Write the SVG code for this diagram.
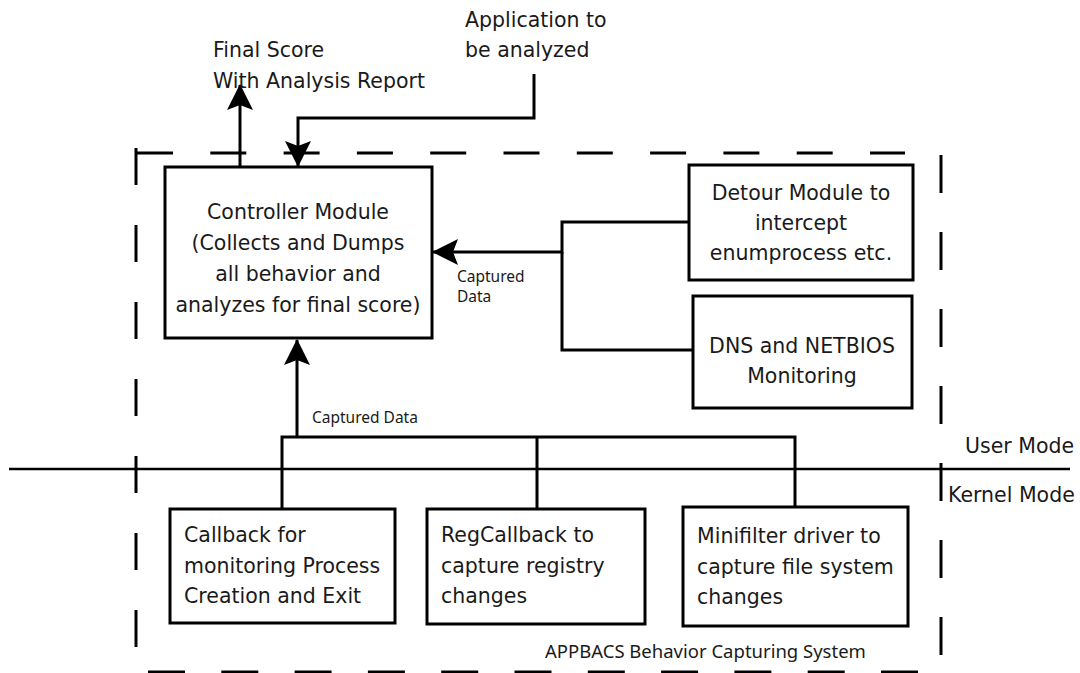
<svg xmlns="http://www.w3.org/2000/svg" width="1080" height="673" viewBox="0 0 1080 673">
<style>
.box{fill:#fff;stroke:#000;stroke-width:3}
.t{font-family:"DejaVu Sans",Verdana,sans-serif;font-size:20.5px;fill:#1a1a1a}
.tc{text-anchor:middle}
.s{font-family:"Noto Sans","Open Sans",sans-serif;font-size:15.5px;fill:#1a1a1a}
.ln{fill:none;stroke:#000;stroke-width:3}
.dash{fill:none;stroke:#000;stroke-width:3}
</style>
<defs>
<marker id="arr" viewBox="0 0 26 26" refX="25" refY="13" markerWidth="26" markerHeight="26" markerUnits="userSpaceOnUse" orient="auto">
<path d="M0,0 L26,13 L0,26 L5,13 Z" fill="#000"/>
</marker>
</defs>
<rect width="1080" height="673" fill="#fff"/>
<g id="boundary">
<line class="dash" x1="137" y1="153" x2="905" y2="153" stroke-dasharray="36 37.3"/>
<line class="dash" x1="136" y1="148" x2="136" y2="660" stroke-dasharray="37 40"/>
<line class="dash" x1="941" y1="155" x2="941" y2="665" stroke-dasharray="38 39"/>
<line class="dash" x1="148" y1="672" x2="920" y2="672" stroke-dasharray="37 36.3"/>
<text class="s" x="545" y="658" style="font-size:18.5px">APPBACS Behavior Capturing System</text>
</g>
<g id="mode-line">
<line x1="9" y1="469" x2="1070" y2="469" stroke="#000" stroke-width="2.5"/>
<text class="t" x="965" y="453">User Mode</text>
<text class="t" x="948" y="502">Kernel Mode</text>
</g>
<g id="connectors">
<line class="ln" x1="240" y1="167" x2="240" y2="85" marker-end="url(#arr)"/>
<polyline class="ln" points="534,74 534,118 298,118 298,166" marker-end="url(#arr)"/>
<polyline class="ln" points="689,222 562,222 562,252 433,252" marker-end="url(#arr)"/>
<polyline class="ln" points="562,252 562,350 693,350"/>
<line class="ln" x1="297" y1="437" x2="297" y2="340" marker-end="url(#arr)"/>
<polyline class="ln" points="282,509 282,437 795,437 795,507"/>
<line class="ln" x1="537" y1="437" x2="537" y2="509"/>
<text class="s" x="457" y="282">Captured</text>
<text class="s" x="457" y="302">Data</text>
<text class="s" x="312" y="423">Captured Data</text>
</g>
<g id="output-label">
<text class="t" x="213" y="57">Final Score</text>
<text class="t" x="213" y="88">With Analysis Report</text>
</g>
<g id="input-label">
<text class="t" x="465" y="27">Application to</text>
<text class="t" x="465" y="57">be analyzed</text>
</g>
<g id="controller">
<rect class="box" x="165" y="167" width="267" height="171"/>
<text class="t tc" x="298" y="219">Controller Module</text>
<text class="t tc" x="298" y="250">(Collects and Dumps</text>
<text class="t tc" x="298" y="281">all behavior and</text>
<text class="t tc" x="298" y="312">analyzes for final score)</text>
</g>
<g id="detour">
<rect class="box" x="689" y="165" width="224" height="115"/>
<text class="t tc" x="801" y="200">Detour Module to</text>
<text class="t tc" x="801" y="230">intercept</text>
<text class="t tc" x="801" y="260">enumprocess etc.</text>
</g>
<g id="dns">
<rect class="box" x="693" y="296" width="219" height="112"/>
<text class="t tc" x="802" y="353">DNS and NETBIOS</text>
<text class="t tc" x="802" y="383">Monitoring</text>
</g>
<g id="proc-callback">
<rect class="box" x="170" y="509" width="225" height="114"/>
<text class="t" x="184" y="542">Callback for</text>
<text class="t" x="184" y="573">monitoring Process</text>
<text class="t" x="184" y="603">Creation and Exit</text>
</g>
<g id="reg-callback">
<rect class="box" x="427" y="509" width="218" height="115"/>
<text class="t" x="441" y="542">RegCallback to</text>
<text class="t" x="441" y="573">capture registry</text>
<text class="t" x="441" y="603">changes</text>
</g>
<g id="minifilter">
<rect class="box" x="683" y="507" width="225" height="119"/>
<text class="t" x="697" y="543">Minifilter driver to</text>
<text class="t" x="697" y="574">capture file system</text>
<text class="t" x="697" y="604">changes</text>
</g>
</svg>
